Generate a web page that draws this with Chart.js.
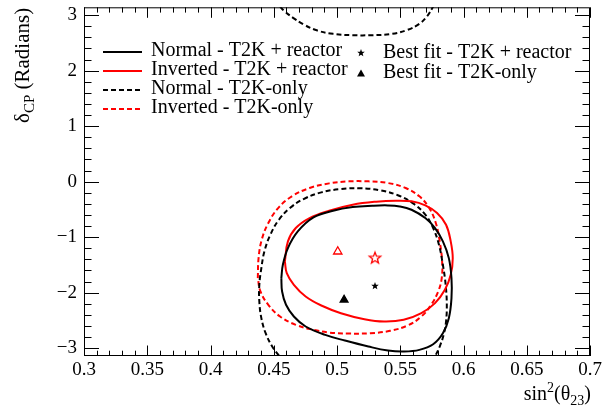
<!DOCTYPE html>
<html>
<head>
<meta charset="utf-8">
<script src="https://cdn.jsdelivr.net/npm/chart.js@4.4.1/dist/chart.umd.min.js"></script>
<style>
html, body { margin: 0; padding: 0; background: #fff; }
</style>
</head>
<body>
<canvas id="contours" width="607" height="410"></canvas>
<script>
// axis ticks
let xTickValues = [0.3, 0.35, 0.4, 0.45, 0.5, 0.55, 0.6, 0.65, 0.7];
let yTickValues = [-3, -2, -1, 0, 1, 2, 3];

// contours, [sin^2(theta23), delta_CP]
let normalReactor = [[0.4560,-1.738],[0.4566,-1.979],[0.4597,-2.219],[0.4659,-2.430],[0.4752,-2.610],[0.4907,-2.761],[0.5062,-2.863],[0.5248,-2.971],[0.5403,-3.043],[0.5527,-3.061],[0.5651,-3.031],[0.5760,-2.929],[0.5837,-2.731],[0.5884,-2.460],[0.5905,-2.099],[0.5905,-1.738],[0.5884,-1.378],[0.5837,-1.077],[0.5775,-0.836],[0.5698,-0.656],[0.5589,-0.506],[0.5496,-0.446],[0.5403,-0.428],[0.5279,-0.434],[0.5124,-0.458],[0.4969,-0.524],[0.4814,-0.644],[0.4690,-0.897],[0.4612,-1.197],[0.4572,-1.498],[0.4560,-1.738]];
let invertedReactor = [[0.4588,-1.438],[0.4612,-1.077],[0.4674,-0.836],[0.4783,-0.656],[0.4938,-0.524],[0.5124,-0.416],[0.5310,-0.361],[0.5465,-0.343],[0.5589,-0.355],[0.5698,-0.428],[0.5791,-0.566],[0.5862,-0.776],[0.5899,-1.077],[0.5915,-1.378],[0.5899,-1.678],[0.5853,-1.949],[0.5775,-2.189],[0.5667,-2.370],[0.5527,-2.490],[0.5372,-2.520],[0.5217,-2.478],[0.5031,-2.370],[0.4876,-2.232],[0.4752,-2.069],[0.4659,-1.859],[0.4603,-1.648],[0.4588,-1.438]];
let normalT2K = [[0.4541,-3.133],[0.4488,-2.971],[0.4436,-2.731],[0.4402,-2.460],[0.4386,-2.159],[0.4386,-1.859],[0.4402,-1.558],[0.4426,-1.257],[0.4473,-0.957],[0.4541,-0.686],[0.4628,-0.476],[0.4736,-0.313],[0.4876,-0.193],[0.5031,-0.133],[0.5186,-0.120],[0.5341,-0.155],[0.5481,-0.245],[0.5605,-0.397],[0.5698,-0.596],[0.5760,-0.836],[0.5806,-1.137],[0.5837,-1.498],[0.5859,-1.859],[0.5868,-2.219],[0.5862,-2.520],[0.5843,-2.761],[0.5812,-2.971],[0.5775,-3.150]];
// same contour where it wraps round through +pi
let normalT2KWrap = [[0.4550,3.150],[0.4591,3.060],[0.4653,2.952],[0.4736,2.832],[0.4845,2.723],[0.4969,2.663],[0.5124,2.639],[0.5279,2.639],[0.5434,2.663],[0.5558,2.735],[0.5651,2.844],[0.5713,2.982],[0.5760,3.150]];
let invertedT2K = [[0.4374,-1.738],[0.4380,-1.378],[0.4405,-1.047],[0.4457,-0.746],[0.4535,-0.476],[0.4643,-0.265],[0.4783,-0.115],[0.4938,-0.031],[0.5093,0.005],[0.5248,0.005],[0.5403,-0.025],[0.5543,-0.115],[0.5651,-0.265],[0.5729,-0.476],[0.5781,-0.746],[0.5812,-1.077],[0.5831,-1.438],[0.5828,-1.738],[0.5800,-1.979],[0.5744,-2.219],[0.5667,-2.430],[0.5558,-2.592],[0.5419,-2.688],[0.5264,-2.731],[0.5093,-2.737],[0.4938,-2.719],[0.4814,-2.670],[0.4674,-2.580],[0.4550,-2.430],[0.4457,-2.219],[0.4395,-1.979],[0.4374,-1.738]];

// best fit points
let bestNormalReactor = [0.530, -1.88];
let bestInvertedReactor = [0.530, -1.38];
let bestNormalT2K = [0.5056, -2.13];
let bestInvertedT2K = [0.5006, -1.26];

let lineLabels = ['Normal - T2K + reactor', 'Inverted - T2K + reactor', 'Normal - T2K-only', 'Inverted - T2K-only'];
let markerLabels = ['Best fit - T2K + reactor', 'Best fit - T2K-only'];

const serif = '"Liberation Serif", Tinos, "Times New Roman", Times, "Nimbus Roman", "Nimbus Roman No9 L", FreeSerif, "DejaVu Serif", "Noto Serif", serif';
const RED = '#ff0000';
const dash = [5, 3];

let pts = arr => arr.map(p => ({x: p[0], y: p[1]}));

let starImage = (outer, fill, stroke) => {
  let c = document.createElement('canvas');
  let s = Math.ceil(outer * 2 + 4);
  c.width = s; c.height = s;
  let g = c.getContext('2d');
  g.beginPath();
  for (let i = 0; i < 10; i++) {
    let r = i % 2 ? outer * 0.42 : outer;
    let a = -Math.PI / 2 + i * Math.PI / 5;
    let px = s / 2 + r * Math.cos(a), py = s / 2 + r * Math.sin(a);
    if (i) g.lineTo(px, py); else g.moveTo(px, py);
  }
  g.closePath();
  if (fill) { g.fillStyle = fill; g.fill(); }
  if (stroke) { g.strokeStyle = stroke; g.lineWidth = 1.3; g.stroke(); }
  return c;
};
let blackStar = starImage(4, '#000', null);
let redStar = starImage(6, null, RED);

let contour = (data, color, dashed) => ({
  data: pts(data), showLine: true, borderColor: color, borderWidth: 2,
  borderDash: dashed ? dash : [], pointRadius: 0, tension: 0.4, fill: false
});
let marker = (p, style, color, fill, r) => ({
  data: pts([p]), showLine: false, pointStyle: style, pointRadius: r,
  borderColor: color, backgroundColor: fill, pointBorderWidth: 1.3
});

let drawRich = (ctx, parts, x, y) => {
  parts.forEach(p => {
    ctx.font = p[1] + 'px ' + serif;
    ctx.fillText(p[0], x, y + p[2]);
    x += ctx.measureText(p[0]).width;
  });
};
let richWidth = (ctx, parts) => parts.reduce((w, p) => {
  ctx.font = p[1] + 'px ' + serif;
  return w + ctx.measureText(p[0]).width;
}, 0);

// ROOT style frame, inner ticks, axis titles and legend
let rootDecor = {
  id: 'rootDecor',
  beforeDraw(chart) {
    let ctx = chart.ctx;
    ctx.save();
    ctx.fillStyle = '#fff';
    ctx.fillRect(0, 0, chart.width, chart.height);
    ctx.restore();
  },
  afterDraw(chart) {
    let ctx = chart.ctx;
    let a = chart.chartArea;
    let xs = chart.scales.x, ys = chart.scales.y;
    ctx.save();
    ctx.strokeStyle = '#000';
    ctx.lineWidth = 1;
    ctx.strokeRect(a.left + 0.5, a.top + 0.5, a.right - a.left - 1, a.bottom - a.top - 1);
    ctx.beginPath();
    for (let i = 0; i <= 40; i++) {
      let px = Math.round(xs.getPixelForValue(0.3 + i * 0.01)) + 0.5;
      let len = i % 5 === 0 ? 10.5 : 5.3;
      ctx.moveTo(px, a.bottom); ctx.lineTo(px, a.bottom - len);
      ctx.moveTo(px, a.top); ctx.lineTo(px, a.top + len);
    }
    for (let i = -15; i <= 15; i++) {
      let py = Math.round(ys.getPixelForValue(i * 0.2)) + 0.5;
      let len = i % 5 === 0 ? 15 : 7.5;
      ctx.moveTo(a.left, py); ctx.lineTo(a.left + len, py);
      ctx.moveTo(a.right, py); ctx.lineTo(a.right - len, py);
    }
    ctx.stroke();

    // axis titles
    ctx.fillStyle = '#000';
    ctx.textBaseline = 'alphabetic';
    ctx.textAlign = 'left';
    let xTitle = [['sin', 20, 0], ['2', 14, -8], ['(\u03b8', 20, 0], ['23', 14, 5], [')', 20, 0]];
    drawRich(ctx, xTitle, 591 - richWidth(ctx, xTitle), 400);
    ctx.save();
    ctx.translate(29, 123);
    ctx.rotate(-Math.PI / 2);
    drawRich(ctx, [['\u03b4', 21, 0], ['CP', 15, 5], [' (Radians)', 21, 0]], 0, 0);
    ctx.restore();

    // legend
    ctx.font = '20px ' + serif;
    ctx.textBaseline = 'middle';
    let styles = [['#000', []], [RED, []], ['#000', dash], [RED, dash]];
    let rows = [51, 70, 89, 108];
    lineLabels.forEach((t, i) => {
      ctx.beginPath();
      ctx.strokeStyle = styles[i][0];
      ctx.lineWidth = 2;
      ctx.setLineDash(styles[i][1]);
      ctx.moveTo(103, rows[i] + 1);
      ctx.lineTo(142, rows[i] + 1);
      ctx.stroke();
      ctx.setLineDash([]);
      ctx.fillText(t, 151, rows[i]);
    });
    ctx.drawImage(blackStar, 361 - blackStar.width / 2, 53 - blackStar.height / 2);
    ctx.beginPath();
    ctx.moveTo(361, 69.5); ctx.lineTo(365, 76.5); ctx.lineTo(357, 76.5);
    ctx.closePath();
    ctx.fillStyle = '#000';
    ctx.fill();
    ctx.fillText(markerLabels[0], 383, 53);
    ctx.fillText(markerLabels[1], 383, 73);
    ctx.restore();
  }
};

let minus = v => (v < 0 ? '\u2212' + Math.abs(v) : String(v));

new Chart(document.getElementById('contours'), {
  type: 'scatter',
  data: {
    datasets: [
      contour(normalReactor, '#000', false),
      contour(invertedReactor, RED, false),
      contour(normalT2K, '#000', true),
      contour(normalT2KWrap, '#000', true),
      contour(invertedT2K, RED, true),
      marker(bestNormalReactor, blackStar, '#000', '#000', 4),
      marker(bestInvertedReactor, redStar, RED, 'rgba(0,0,0,0)', 6),
      marker(bestNormalT2K, 'triangle', '#000', '#000', 4.5),
      marker(bestInvertedT2K, 'triangle', RED, 'rgba(0,0,0,0)', 4.8)
    ]
  },
  options: {
    responsive: false,
    animation: false,
    devicePixelRatio: 1,
    layout: { padding: { top: 6, right: 17, left: 0, bottom: 0 } },
    plugins: { legend: { display: false }, tooltip: { enabled: false } },
    scales: {
      x: {
        type: 'linear', min: 0.3, max: 0.7,
        grid: { display: false, drawTicks: false },
        border: { display: false },
        afterBuildTicks: s => { s.ticks = xTickValues.map(v => ({value: v})); },
        afterFit: s => { s.height = 54; s.paddingLeft = 0; s.paddingRight = 0; },
        ticks: { color: '#000', font: { family: serif, size: 19 }, padding: 3, maxRotation: 0, autoSkip: false, callback: v => String(v) }
      },
      y: {
        type: 'linear', min: -Math.PI, max: Math.PI,
        grid: { display: false, drawTicks: false },
        border: { display: false },
        afterBuildTicks: s => { s.ticks = yTickValues.map(v => ({value: v})); },
        afterFit: s => { s.width = 84; s.paddingTop = 0; s.paddingBottom = 0; },
        ticks: { color: '#000', font: { family: serif, size: 19 }, padding: 7, autoSkip: false, callback: v => minus(v) }
      }
    }
  },
  plugins: [rootDecor]
});
</script>
</body>
</html>
